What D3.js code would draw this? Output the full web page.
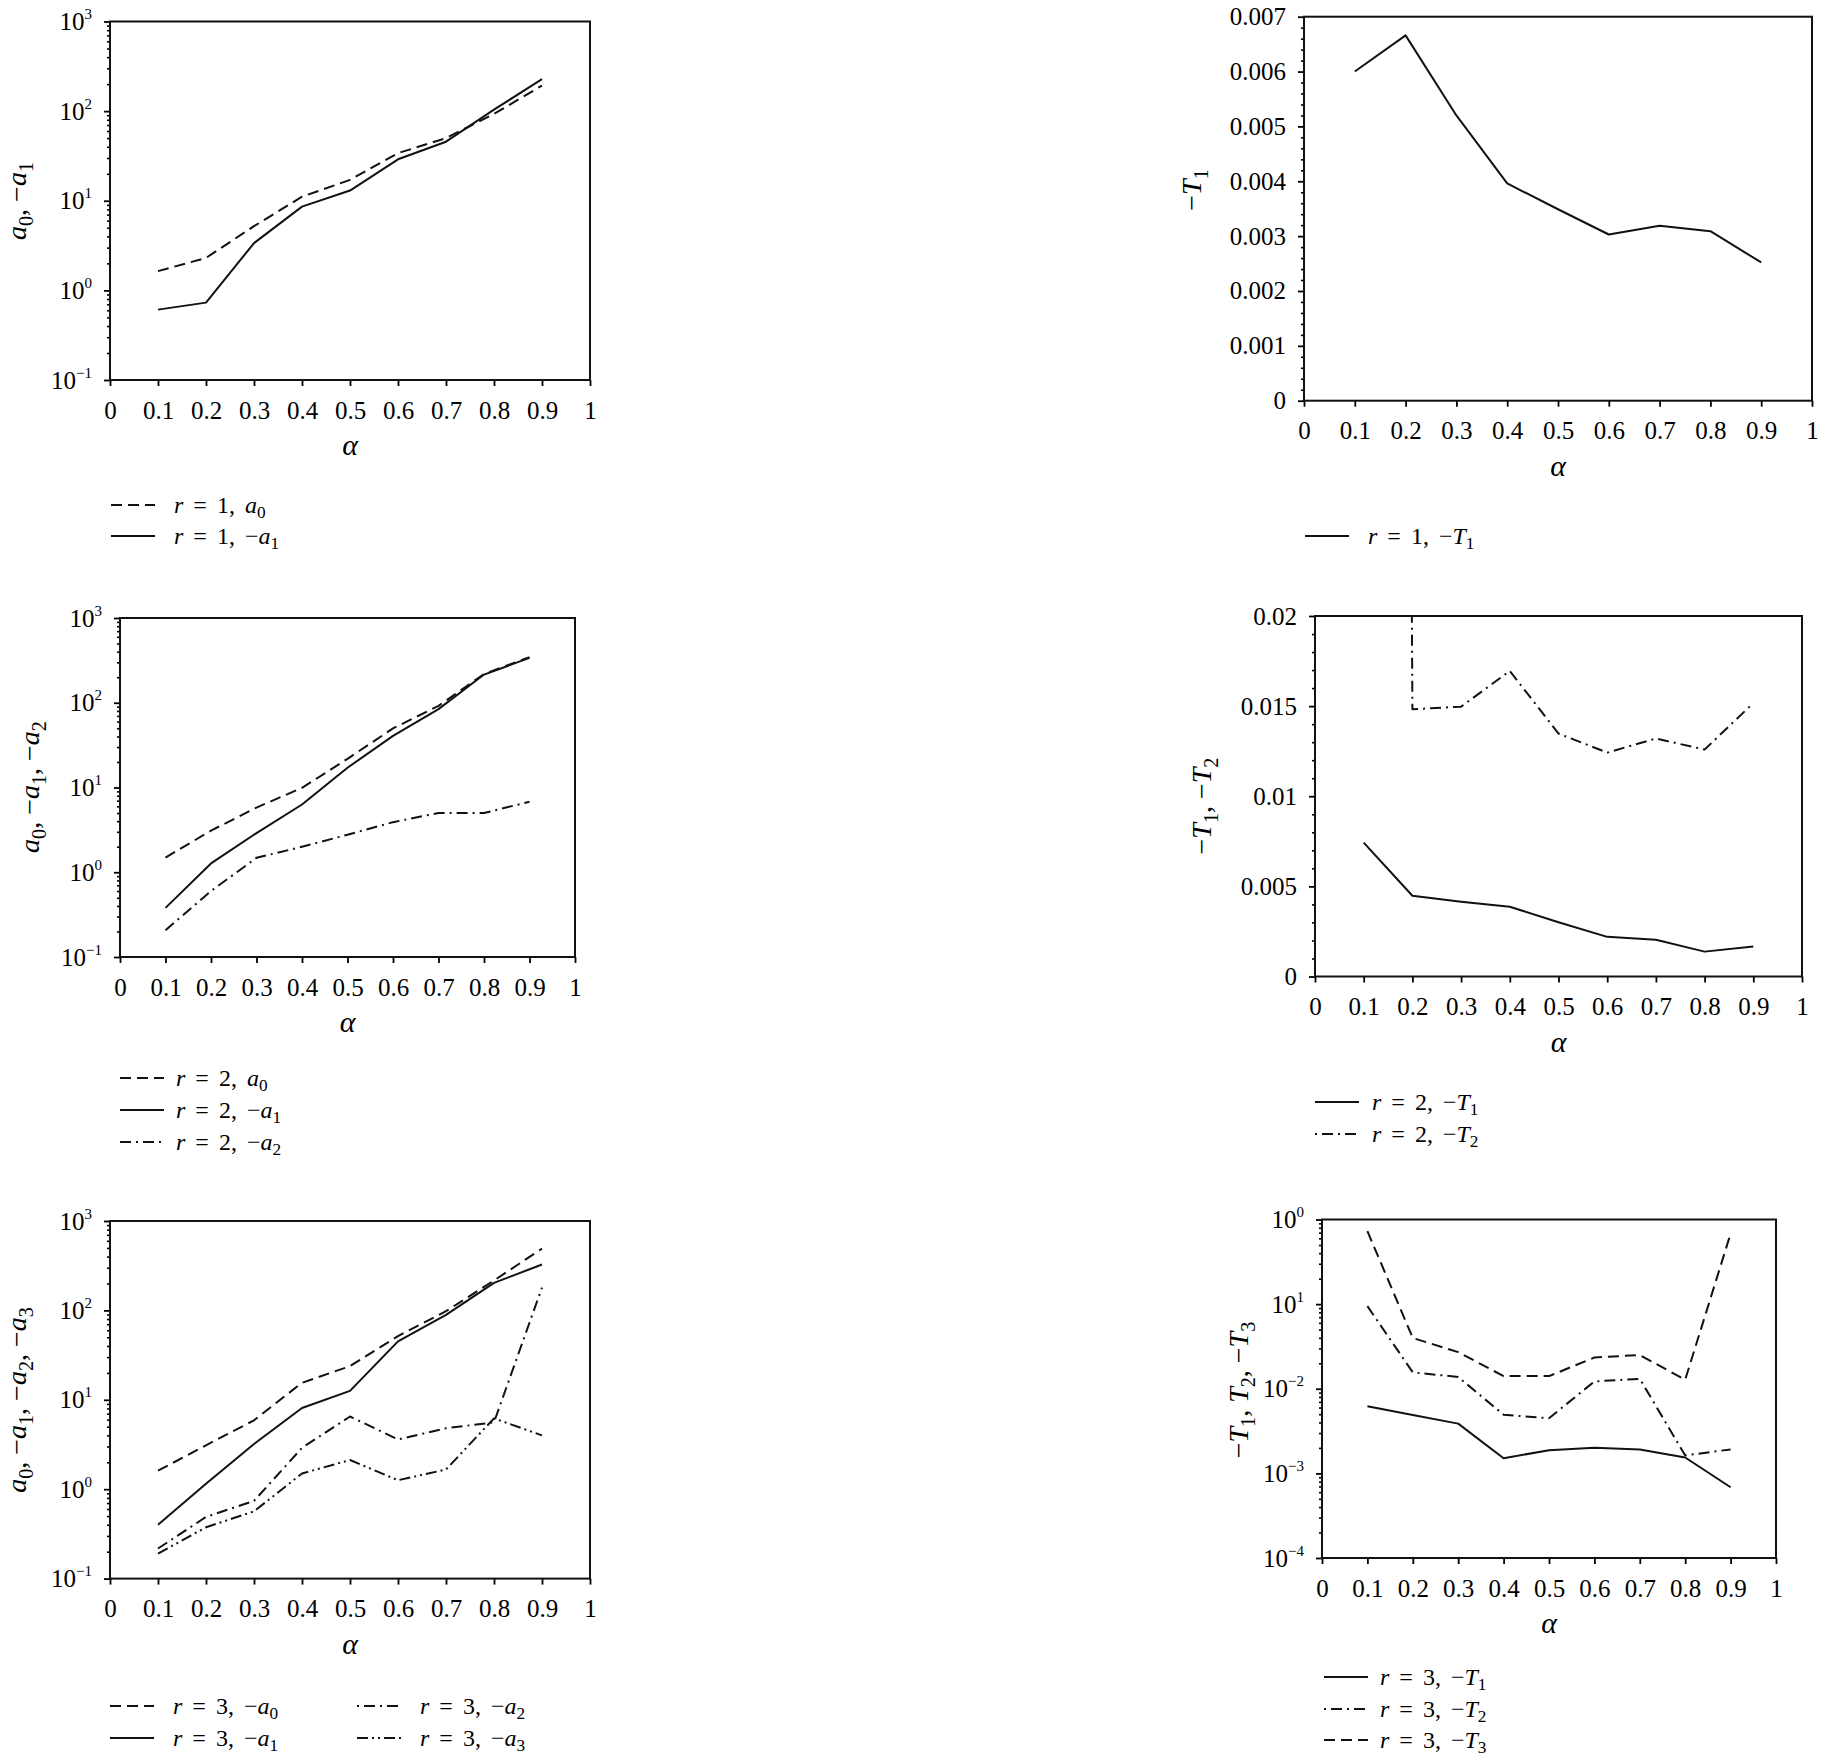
<!DOCTYPE html>
<html><head><meta charset="utf-8">
<script src="https://cdn.jsdelivr.net/npm/d3@7"></script>
<style>
body{margin:0;background:#fff;}
svg{display:block;background:#fff;}
text{font-family:"Liberation Serif","Times New Roman",serif;fill:#000;}
</style></head><body>
<svg id="c" width="1831" height="1759"></svg>
<script>
// ---------- data ----------
const alpha = [0.1,0.2,0.3,0.4,0.5,0.6,0.7,0.8,0.9];
const xTickValues = [0,0.1,0.2,0.3,0.4,0.5,0.6,0.7,0.8,0.9,1];
const xTickLabels = ["0","0.1","0.2","0.3","0.4","0.5","0.6","0.7","0.8","0.9","1"];

const logTicksA = [1000,100,10,1,0.1];
const logExpA = ["3","2","1","0","\u22121"];
const logTicksB = [1,0.1,0.01,0.001,0.0001];
const logExpB = ["0","1","\u22122","\u22123","\u22124"];
const linTicks2 = [0,0.001,0.002,0.003,0.004,0.005,0.006,0.007];
const linLabels2 = ["0","0.001","0.002","0.003","0.004","0.005","0.006","0.007"];
const linTicks4 = [0,0.005,0.01,0.015,0.02];
const linLabels4 = ["0","0.005","0.01","0.015","0.02"];

// panel 1 (r = 1)
const p1_a0 = [1.64, 2.3, 5.2, 11.1, 17.1, 34, 50, 93, 193];
const p1_a1 = [0.61, 0.73, 3.37, 8.6, 13, 29, 45.6, 104, 227];
// panel 2 (r = 1)
const p2_T1 = [0.0060, 0.00666, 0.0052, 0.00396, 0.00349, 0.00303, 0.00319, 0.00309, 0.00252];
// panel 3 (r = 2)
const p3_a0 = [1.49, 3.1, 5.8, 9.9, 21.8, 49.8, 92, 218, 345];
const p3_a1 = [0.38, 1.27, 2.9, 6.3, 17.1, 40.7, 84, 215, 338];
const p3_a2 = [0.207, 0.60, 1.48, 2.0, 2.77, 3.9, 5.0, 5.0, 6.8];
// panel 4 (r = 2)
const p4_T1 = [0.00743, 0.00448, 0.00415, 0.00387, 0.00301, 0.0022, 0.00204, 0.00138, 0.00167];
const p4_T2 = [0.5, 0.01483, 0.01497, 0.01695, 0.01348, 0.01242, 0.0132, 0.01259, 0.01517];
// panel 5 (r = 3)
const p5_a0 = [1.61, 3.1, 5.9, 15.5, 23.8, 51.6, 98, 216, 491];
const p5_a1 = [0.40, 1.15, 3.2, 8.1, 12.6, 45, 89, 203, 326];
const p5_a2 = [0.217, 0.49, 0.74, 2.9, 6.5, 3.6, 4.8, 5.6, 180];
const p5_a3 = [0.19, 0.375, 0.565, 1.5, 2.12, 1.26, 1.66, 6.2, 4.0];
// panel 6 (r = 3)
const p6_T1 = [0.0062, 0.00489, 0.00387, 0.00151, 0.00188, 0.00201, 0.00192, 0.00154, 0.000686];
const p6_T2 = [0.0946, 0.0156, 0.0138, 0.00493, 0.00448, 0.0122, 0.0131, 0.00163, 0.00192];
const p6_T3 = [0.728, 0.0398, 0.0271, 0.0141, 0.0141, 0.0234, 0.0250, 0.0128, 0.68];

// ---------- styles ----------
const dashes = {solid:null, dash:"11,6", dashdot:"11,5,2,5", dashdotdot:"11,4,2,4,2,4"};
const TICK_FS = 25, TITLE_FS = 28, LEG_FS = 24;

const svg = d3.select("#c");

// rich text: "_x" -> subscript, r a T α italic
function rich(sel, str, fs) {
  const parts = [];
  for (let i = 0; i < str.length; i++) {
    let ch = str[i], st;
    if (ch === "_") { ch = str[++i]; st = "sub"; }
    else if ("raTα".includes(ch)) st = "i";
    else st = "n";
    const last = parts[parts.length-1];
    if (last && last.st === st) last.t += ch; else parts.push({t:ch, st});
  }
  let shifted = 0;
  parts.forEach(p => {
    const ts = sel.append("tspan").text(p.t);
    if (p.st === "i") ts.attr("font-style","italic");
    if (p.st === "sub") {
      ts.attr("font-size", fs*0.72).attr("dy", fs*0.22);
      shifted = fs*0.22;
    } else if (shifted) {
      ts.attr("dy", -shifted); shifted = 0;
    }
  });
}

function panel(cfg) {
  const [L,T,R,B] = cfg.box;
  const g = svg.append("g");
  const x = d3.scaleLinear().domain([0,1]).range([L,R]);
  const y = (cfg.log ? d3.scaleLog() : d3.scaleLinear()).domain(cfg.domain).range([B,T]);
  const clipId = "clip" + cfg.id;
  svg.append("clipPath").attr("id", clipId).append("rect")
    .attr("x", L).attr("y", T).attr("width", R-L).attr("height", B-T);

  // minor y ticks
  let minor;
  if (cfg.log) minor = y.ticks().filter(v => Math.abs(Math.log10(v) - Math.round(Math.log10(v))) > 1e-6);
  else minor = y.ticks(cfg.minorCount).filter(v => !cfg.yTicks.some(t => Math.abs(t - v) < 1e-9));
  const gm = g.append("g").attr("transform", `translate(${L},0)`)
    .call(d3.axisLeft(y).tickValues(minor).tickSize(3).tickFormat(""));
  gm.select(".domain").remove();
  gm.selectAll("line").attr("stroke-width", 1.6);

  // major y ticks
  const gy = g.append("g").attr("transform", `translate(${L},0)`)
    .call(d3.axisLeft(y).tickValues(cfg.yTicks).tickSize(6).tickFormat(""));
  gy.select(".domain").remove();
  gy.selectAll("line").attr("stroke-width", 1.8);

  // y tick labels
  const yl = g.selectAll("text.ylab").data(cfg.yTicks).join("text")
    .attr("class","ylab")
    .attr("x", L - 18).attr("y", d => y(d) + 8.5)
    .attr("text-anchor","end").attr("font-size", TICK_FS);
  if (cfg.log) {
    yl.each(function(d, i) {
      const t = d3.select(this);
      t.append("tspan").text("10");
      t.append("tspan").attr("font-size", 15).attr("dy", -11).text(cfg.yExp[i]);
    });
  } else {
    yl.text((d, i) => cfg.yLabels[i]);
  }

  // x axis
  const gx = g.append("g").attr("transform", `translate(0,${B})`)
    .call(d3.axisBottom(x).tickValues(xTickValues).tickSize(6).tickPadding(15)
      .tickFormat((d, i) => xTickLabels[i]));
  gx.select(".domain").remove();
  gx.selectAll("line").attr("stroke-width", 1.8);
  gx.selectAll("text").attr("font-size", TICK_FS)
    .attr("font-family", '"Liberation Serif","Times New Roman",serif').attr("fill","#000");

  // frame
  g.append("rect").attr("x", L).attr("y", T).attr("width", R-L).attr("height", B-T)
    .attr("fill","none").attr("stroke","#111").attr("stroke-width", 2);

  // series
  const line = d3.line().x((d, i) => x(alpha[i])).y(d => y(d));
  const gl = g.append("g").attr("clip-path", `url(#${clipId})`);
  cfg.series.forEach(s => {
    gl.append("path").datum(s.data).attr("d", line)
      .attr("fill","none").attr("stroke","#111").attr("stroke-width", 2)
      .attr("stroke-linejoin","round")
      .attr("stroke-dasharray", dashes[s.style]);
  });

  // x title
  g.append("text").attr("x", (L+R)/2).attr("y", B + 75).attr("text-anchor","middle")
    .attr("font-size", 30).attr("font-style","italic").text("α");

  // y title
  const yt = g.append("text")
    .attr("transform", `translate(${cfg.ytX},${cfg.ytY}) rotate(-90)`)
    .attr("text-anchor","middle").attr("dy", "0.3em").attr("font-size", TITLE_FS);
  rich(yt, cfg.ytitle, TITLE_FS);

  // legend
  cfg.legend.forEach(it => {
    const ly = it.y;
    g.append("line").attr("x1", it.x).attr("x2", it.x + 44).attr("y1", ly).attr("y2", ly)
      .attr("stroke","#111").attr("stroke-width", 2)
      .attr("stroke-dasharray", dashes[it.style])
      .attr("stroke-dashoffset", it.dotFirst ? 16 : 0);
    const t = g.append("text").attr("x", it.x + cfg.legGap).attr("y", ly + 8)
      .attr("font-size", LEG_FS).attr("xml:space","preserve").style("word-spacing","4px");
    rich(t, it.label, LEG_FS);
  });
}

panel({id:1, box:[110,21.5,590,380], log:true, domain:[0.1,1000], yTicks:logTicksA, yExp:logExpA,
  series:[{data:p1_a0, style:"dash"},{data:p1_a1, style:"solid"}],
  ytitle:"a_0, \u2212a_1", ytX:18, ytY:201, legGap:63,
  legend:[{x:111,y:505,style:"dash",label:"r = 1, a_0"},{x:111,y:536,style:"solid",label:"r = 1, \u2212a_1"}]});

panel({id:2, box:[1304,16.7,1812,400.7], log:false, domain:[0,0.007], yTicks:linTicks2, yLabels:linLabels2, minorCount:35,
  series:[{data:p2_T1, style:"solid"}],
  ytitle:"\u2212T_1", ytX:1193, ytY:190, legGap:63,
  legend:[{x:1305,y:536,style:"solid",label:"r = 1, \u2212T_1"}]});

panel({id:3, box:[120,618,575,957], log:true, domain:[0.1,1000], yTicks:logTicksA, yExp:logExpA,
  series:[{data:p3_a0, style:"dash"},{data:p3_a1, style:"solid"},{data:p3_a2, style:"dashdot"}],
  ytitle:"a_0, \u2212a_1, \u2212a_2", ytX:31, ytY:787, legGap:56,
  legend:[{x:120,y:1078,style:"dash",label:"r = 2, a_0"},{x:120,y:1110,style:"solid",label:"r = 2, \u2212a_1"},{x:120,y:1142,style:"dashdot",label:"r = 2, \u2212a_2"}]});

panel({id:4, box:[1315,616,1802,976.5], log:false, domain:[0,0.02], yTicks:linTicks4, yLabels:linLabels4, minorCount:20,
  series:[{data:p4_T1, style:"solid"},{data:p4_T2, style:"dashdot"}],
  ytitle:"\u2212T_1, \u2212T_2", ytX:1203, ytY:806, legGap:57,
  legend:[{x:1315,y:1102,style:"solid",label:"r = 2, \u2212T_1"},{x:1315,y:1134,style:"dashdot",dotFirst:true,label:"r = 2, \u2212T_2"}]});

panel({id:5, box:[110,1221,590,1578.6], log:true, domain:[0.1,1000], yTicks:logTicksA, yExp:logExpA,
  series:[{data:p5_a0, style:"dash"},{data:p5_a1, style:"solid"},{data:p5_a2, style:"dashdot"},{data:p5_a3, style:"dashdotdot"}],
  ytitle:"a_0, \u2212a_1, \u2212a_2, \u2212a_3", ytX:18, ytY:1400, legGap:63,
  legend:[{x:110,y:1706,style:"dash",label:"r = 3, \u2212a_0"},{x:110,y:1738,style:"solid",label:"r = 3, \u2212a_1"},
          {x:357,y:1706,style:"dashdot",dotFirst:true,label:"r = 3, \u2212a_2"},{x:357,y:1738,style:"dashdotdot",label:"r = 3, \u2212a_3"}]});

panel({id:6, box:[1322,1219.5,1776,1558], log:true, domain:[0.0001,1], yTicks:logTicksB, yExp:logExpB,
  series:[{data:p6_T1, style:"solid"},{data:p6_T2, style:"dashdot"},{data:p6_T3, style:"dash"}],
  ytitle:"\u2212T_1, T_2, \u2212T_3", ytX:1240, ytY:1390, legGap:56,
  legend:[{x:1324,y:1677,style:"solid",label:"r = 3, \u2212T_1"},{x:1324,y:1709,style:"dashdot",dotFirst:true,label:"r = 3, \u2212T_2"},{x:1324,y:1740,style:"dash",label:"r = 3, \u2212T_3"}]});
</script></body></html>
